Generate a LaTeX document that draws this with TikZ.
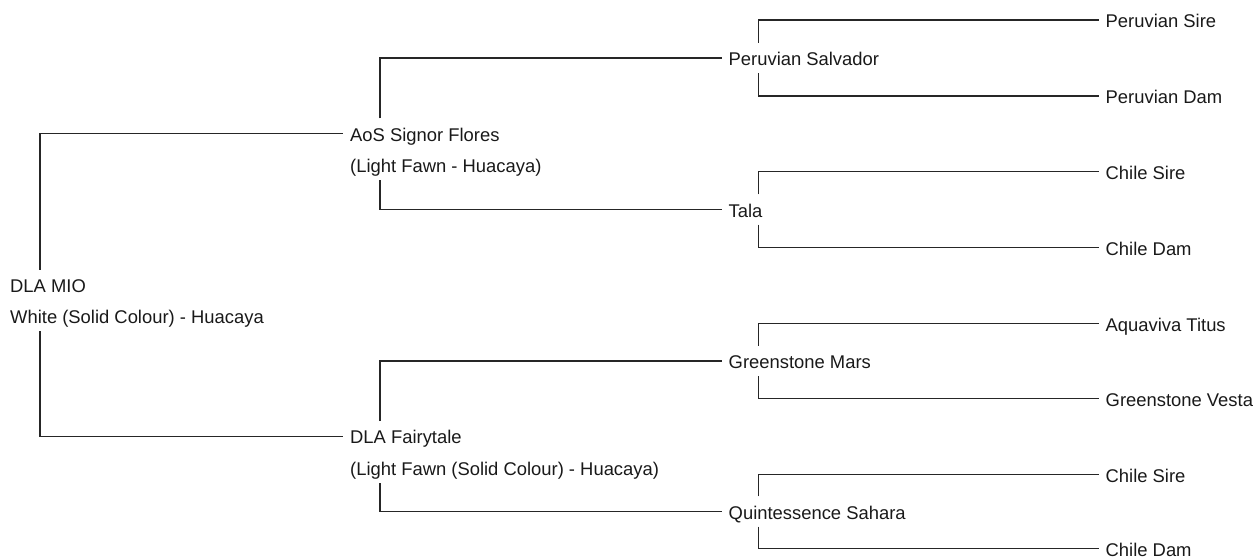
\documentclass[tikz,border=0pt]{standalone}
\usepackage{fontspec}
\setmainfont{Liberation Sans}
\begin{document}
\begin{tikzpicture}[x=1pt,y=-1pt,
  lbl/.style={anchor=base west, inner sep=0pt, text height=22.6pt, text depth=7.4pt,
    font=\fontsize{18.4}{22}\selectfont, text=black!90},
  link/.style={line width=1.3pt, draw=black!85}]
\useasboundingbox (0,0) rectangle (1259,559);
% generation 0
\node[lbl] (mio)  at (10,292.6) {DLA MIO};
\node[lbl] (mio2) at (10,323.6) {White (Solid Colour) - Huacaya};
% generation 1
\node[lbl] (aos)    at (350,141.3) {AoS Signor Flores};
\node[lbl] (aos2)   at (350,172.6) {(Light Fawn - Huacaya)};
\node[lbl] (fairy)  at (350,443.8) {DLA Fairytale};
\node[lbl] (fairy2) at (350,475.6) {(Light Fawn (Solid Colour) - Huacaya)};
% generation 2
\node[lbl] (ps)   at (728.5,65.6)  {Peruvian Salvador};
\node[lbl] (tala) at (728.5,217.1) {Tala};
\node[lbl] (gm)   at (728.5,368.6) {Greenstone Mars};
\node[lbl] (qs)   at (728.5,519.1) {Quintessence Sahara};
% generation 3
\node[lbl] (l1) at (1105.5,27.6)  {Peruvian Sire};
\node[lbl] (l2) at (1105.5,103.6) {Peruvian Dam};
\node[lbl] (l3) at (1105.5,179.1) {Chile Sire};
\node[lbl] (l4) at (1105.5,255.1) {Chile Dam};
\node[lbl] (l5) at (1105.5,331.1) {Aquaviva Titus};
\node[lbl] (l6) at (1105.5,406.1) {Greenstone Vesta};
\node[lbl] (l7) at (1105.5,482.1) {Chile Sire};
\node[lbl] (l8) at (1105.5,556.1) {Chile Dam};
% connectors
\draw[link] ([xshift=30pt]mio.north west) |- ([xshift=-7pt]aos.west);
\draw[link] ([xshift=30pt]mio2.south west) |- ([xshift=-7pt]fairy.west);
\draw[link] ([xshift=30pt]aos.north west) |- ([xshift=-7pt]ps.west);
\draw[link] ([xshift=30pt]aos2.south west) |- ([xshift=-7pt]tala.west);
\draw[link] ([xshift=30pt]fairy.north west) |- ([xshift=-7pt]gm.west);
\draw[link] ([xshift=30pt]fairy2.south west) |- ([xshift=-7pt]qs.west);
\draw[link] ([xshift=30pt]ps.north west) |- ([xshift=-7pt]l1.west);
\draw[link] ([xshift=30pt]ps.south west) |- ([xshift=-7pt]l2.west);
\draw[link] ([xshift=30pt]tala.north west) |- ([xshift=-7pt]l3.west);
\draw[link] ([xshift=30pt]tala.south west) |- ([xshift=-7pt]l4.west);
\draw[link] ([xshift=30pt]gm.north west) |- ([xshift=-7pt]l5.west);
\draw[link] ([xshift=30pt]gm.south west) |- ([xshift=-7pt]l6.west);
\draw[link] ([xshift=30pt]qs.north west) |- ([xshift=-7pt]l7.west);
\draw[link] ([xshift=30pt]qs.south west) |- ([xshift=-7pt]l8.west);
\end{tikzpicture}
\end{document}
